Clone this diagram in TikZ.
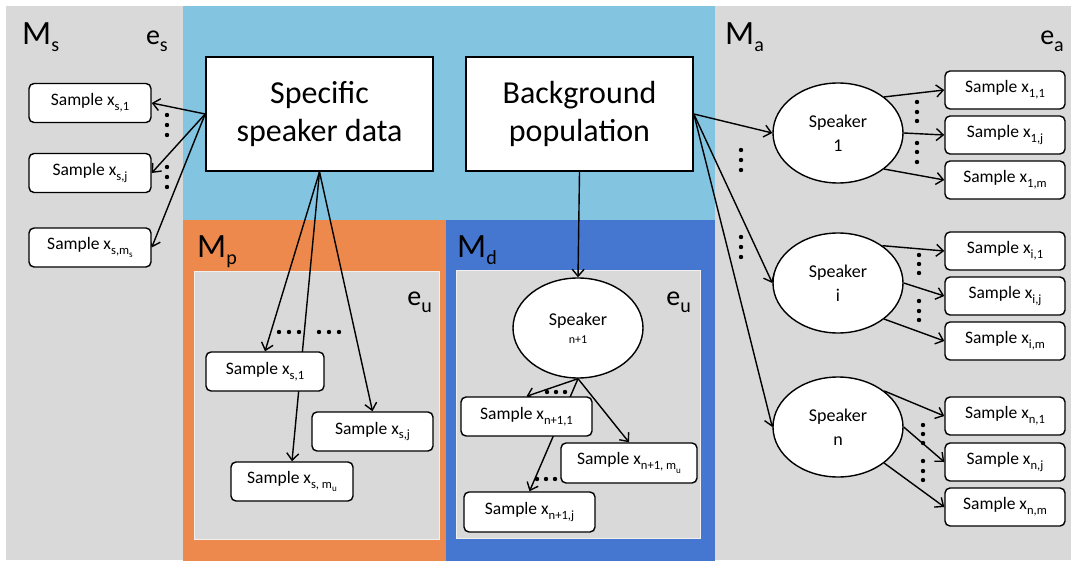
\documentclass[tikz,border=0pt]{standalone}
\usepackage{fontspec}
\setmainfont{Carlito}
\usetikzlibrary{shapes.geometric,arrows.meta}
\pgfdeclarelayer{bg}
\pgfdeclarelayer{mid}
\pgfsetlayers{bg,mid,main}
\definecolor{pgray}{RGB}{217,217,217}
\definecolor{lblue}{RGB}{131,196,224}
\definecolor{porange}{RGB}{237,137,77}
\definecolor{dblue}{RGB}{70,119,208}
\newcommand\lowsub[1]{\raisebox{-0.28em}{\scalebox{0.72}{#1}}}
\newcommand\bigsub[1]{\raisebox{-7pt}{\fontsize{20}{20}\selectfont #1}}
\begin{document}
\begin{tikzpicture}[x=1pt,y=-1pt,
 sbox/.style={draw, fill=white, rounded corners=5pt, line width=1.4pt, inner sep=0pt, minimum height=39pt, font=\fontsize{17.5}{18}\selectfont},
 bigbox/.style={draw, fill=white, line width=1.6pt, inner sep=0pt, minimum width=227pt, minimum height=114pt, align=center, font=\fontsize{32}{38}\selectfont},
 spk/.style={ellipse, draw, fill=white, line width=1.4pt, inner sep=0pt, minimum width=130pt, minimum height=100pt, align=center, font=\fontsize{18}{24}\selectfont},
 arr/.style={-{Straight Barb[length=7pt,width=12pt]}, line width=1.4pt},
 mlab/.style={anchor=base west, inner sep=0pt, font=\fontsize{34}{34}\selectfont},
 elab/.style={anchor=base east, inner sep=0pt, font=\fontsize{28}{28}\selectfont}
]
\useasboundingbox (0,0) rectangle (1075,561);
\begin{pgfonlayer}{bg}
\fill[white] (0,0) rectangle (1075,561);
\fill[pgray] (6,6) rectangle (183,560);
\fill[lblue] (183,6) rectangle (715,220);
\fill[porange] (183,220) rectangle (446,561);
\fill[dblue] (446,220) rectangle (715,561);
\fill[pgray] (715,6) rectangle (1071,560);
\filldraw[fill=pgray, draw=white!60!pgray, line width=0.8pt] (194,271) rectangle (439,539);
\filldraw[fill=pgray, draw=white!60!pgray, line width=0.8pt] (456,270) rectangle (700,538);
\end{pgfonlayer}

% labels
\node[mlab] (lms) at (22,45) {M\bigsub{s}};
\node[elab] (les) at (168,45) {e\bigsub{s}};
\node[mlab] (lma) at (725,45) {M\bigsub{a}};
\node[elab] (lea) at (1064,45) {e\bigsub{a}};
\node[mlab] (lmp) at (197,257) {M\bigsub{p}};
\node[elab] (lep) at (432,305) {e\bigsub{u}};
\node[mlab] (lmd) at (457,257) {M\bigsub{d}};
\node[elab] (led) at (691,305) {e\bigsub{u}};

% big boxes
\node[bigbox] (spec) at (319.5,114) {Specific\\speaker data};
\node[bigbox] (back) at (579.5,114) {Background\\population};

% left samples
\node[sbox, minimum width=122pt] (ls1) at (90,103) {Sample x\lowsub{s,1}};
\node[sbox, minimum width=122pt] (lsj) at (90,173) {Sample x\lowsub{s,j}};
\node[sbox, minimum width=122pt] (lsm) at (90,247.5) {Sample x\lowsub{s,m\lowsub{s}}};

% Mp samples
\node[sbox, minimum width=118pt] (ps1) at (265,371.5) {Sample x\lowsub{s,1}};
\node[sbox, minimum width=121pt] (psj) at (372.5,431.5) {Sample x\lowsub{s,j}};
\node[sbox, minimum width=122pt] (psm) at (292,481.5) {Sample x\lowsub{s, m\lowsub{u}}};

% Md
\node[spk] (sn1) at (578,328) {Speaker\\[-6pt]{\fontsize{12}{14}\selectfont n+1}};
\node[sbox, minimum width=131pt] (d1) at (526.5,416.5) {Sample x\lowsub{n+1,1}};
\node[sbox, minimum width=136pt, minimum height=40pt] (dm) at (629,463) {Sample x\lowsub{n+1, m\lowsub{u}}};
\node[sbox, minimum width=131pt, minimum height=40pt] (dj) at (529.5,512) {Sample x\lowsub{n+1,j}};

% right speakers
\node[spk] (sa) at (838,133) {Speaker\\1};
\node[spk] (sb) at (838,283) {Speaker\\i};
\node[spk] (sc) at (838,427) {Speaker\\n};

\node[sbox, minimum width=120pt, minimum height=38pt] (a1) at (1005,90) {Sample x\lowsub{1,1}};
\node[sbox, minimum width=120pt, minimum height=38pt] (aj) at (1005,135) {Sample x\lowsub{1,j}};
\node[sbox, minimum width=120pt, minimum height=38pt] (am) at (1005,180) {Sample x\lowsub{1,m}};
\node[sbox, minimum width=120pt, minimum height=38pt] (b1) at (1005,251) {Sample x\lowsub{i,1}};
\node[sbox, minimum width=120pt, minimum height=38pt] (bj) at (1005,296) {Sample x\lowsub{i,j}};
\node[sbox, minimum width=120pt, minimum height=38pt] (bm) at (1005,341) {Sample x\lowsub{i,m}};
\node[sbox, minimum width=120pt, minimum height=38pt] (c1) at (1005,416) {Sample x\lowsub{n,1}};
\node[sbox, minimum width=120pt, minimum height=38pt] (cj) at (1005,462) {Sample x\lowsub{n,j}};
\node[sbox, minimum width=120pt, minimum height=38pt] (cm) at (1005,507) {Sample x\lowsub{n,m}};

\begin{pgfonlayer}{mid}
\draw[arr] (spec.west) -- (ls1.east);
\draw[arr] (spec.west) -- (lsj.east);
\draw[arr] (spec.west) -- (lsm.east);
\draw[arr] (spec.south) -- (ps1.north);
\draw[arr] (spec.south) -- (psm.north);
\draw[arr] (spec.south) -- (psj.north);
\draw[arr] (back.south) -- (sn1.north);
\draw[arr] (sn1.south) -- (d1.north);
\draw[arr] (sn1.south) -- (dj.north);
\draw[arr] (sn1.south) -- (dm.north);
\draw[arr] (back.east) -- (sa.west);
\draw[arr] (back.east) -- (sb.west);
\draw[arr] (back.east) -- (sc.west);
\draw[arr] (sa.38) -- (a1.west);
\draw[arr] (sa.east) -- (aj.west);
\draw[arr] (sa.-38) -- (am.west);
\draw[arr] (sb.40) -- (b1.west);
\draw[arr] (sb.east) -- (bj.west);
\draw[arr] (sb.-38) -- (bm.west);
\draw[arr] (sc.38) -- (c1.west);
\draw[arr] (sc.east) -- (cj.west);
\draw[arr] (sc.-38) -- (cm.west);
\end{pgfonlayer}

% ellipsis dots
\foreach \y in {115,125,135,167,177,187} \fill (167,\y) circle (2.2pt);
\foreach \y in {150,160,170,237,247,257} \fill (741,\y) circle (2.2pt);
\foreach \y in {102,112,121,143,152,162} \fill (917,\y) circle (2.2pt);
\foreach \y in {255,264,273,301,311,320} \fill (919,\y) circle (2.2pt);
\foreach \y in {425,434,443,461,471,480} \fill (923,\y) circle (2.2pt);
\foreach \x in {279,289,299,319,329,339} \fill (\x,332) circle (2.2pt);
\foreach \x in {547,556,565} \fill (\x,392) circle (2.2pt);
\foreach \x in {537,546,555} \fill (\x,479) circle (2.2pt);
\end{tikzpicture}
\end{document}
